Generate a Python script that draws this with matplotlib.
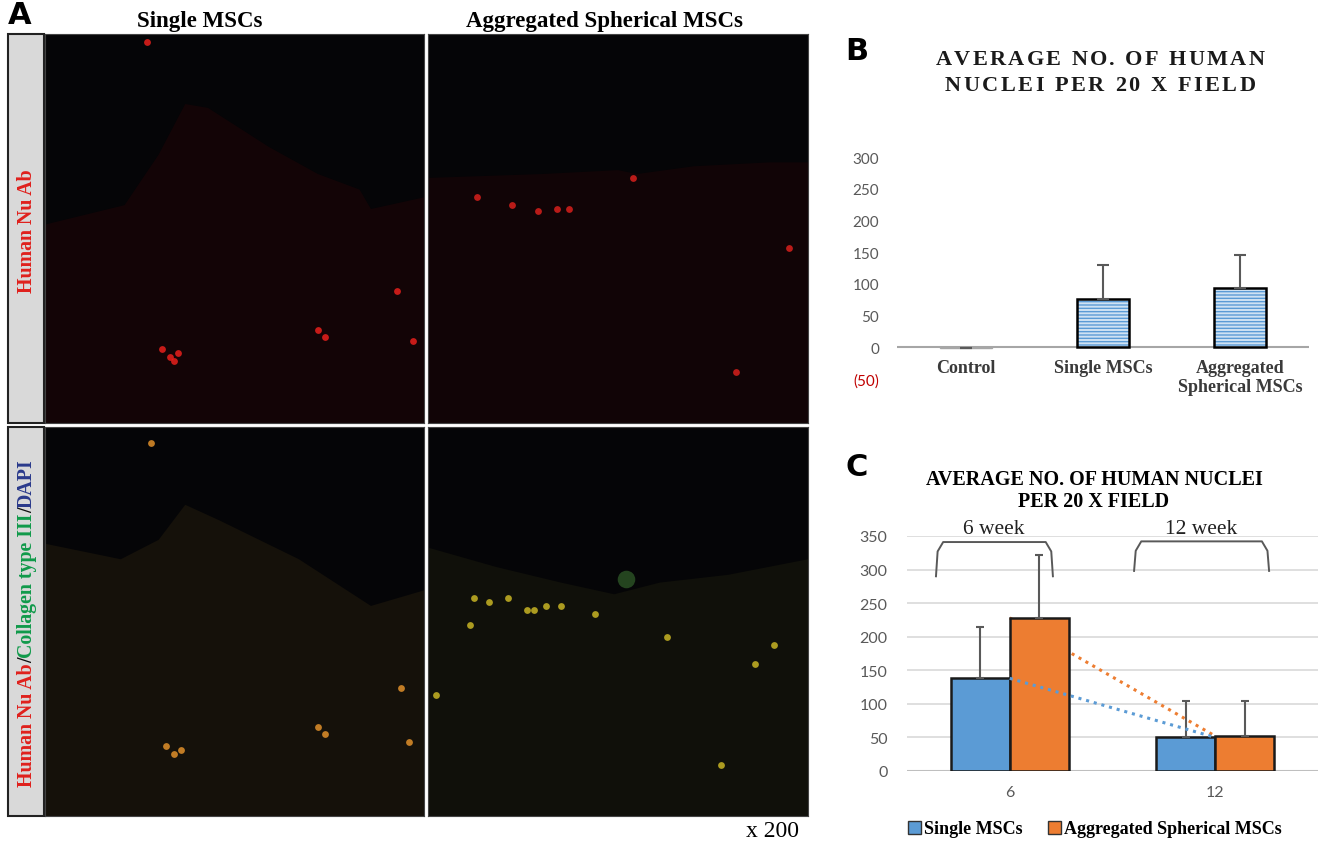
import numpy as np
import matplotlib
matplotlib.use("Agg")
import matplotlib.pyplot as plt
from matplotlib.patches import Patch, Rectangle, Polygon
from matplotlib.font_manager import FontProperties

W, H = 1323, 854

# ---- panel B data ----
b_cats = ["Control", "Single MSCs", "Aggregated\nSpherical MSCs"]
b_vals = [-1, 76, 93]
b_err = [0, 53, 52]
b_ticks = [-50, 0, 50, 100, 150, 200, 250, 300]
b_ticklabels = ["(50)", "0", "50", "100", "150", "200", "250", "300"]

# ---- panel C data ----
c_weeks = ["6", "12"]
c_single = [138, 50]
c_single_err = [76, 54]
c_agg = [228, 52]
c_agg_err = [93, 53]
c_ticks = [0, 50, 100, 150, 200, 250, 300, 350]

# ---- panel A: tissue edges and bright nuclei (fractions of each image, y from top) ----
tl_edge_x = [0, 0.21, 0.30, 0.37, 0.43, 0.59, 0.72, 0.83, 0.86, 1.0]
tl_edge_y = [0.49, 0.44, 0.31, 0.18, 0.19, 0.29, 0.36, 0.40, 0.45, 0.42]
tl_spot_x = [0.31, 0.33, 0.35, 0.34, 0.72, 0.74, 0.93, 0.97, 0.27]
tl_spot_y = [0.81, 0.83, 0.82, 0.84, 0.76, 0.78, 0.66, 0.79, 0.02]

tr_edge_x = [0, 0.3, 0.5, 0.55, 0.7, 0.9, 1.0]
tr_edge_y = [0.37, 0.36, 0.35, 0.36, 0.34, 0.33, 0.33]
tr_spot_x = [0.13, 0.22, 0.29, 0.34, 0.37, 0.95, 0.81, 0.54]
tr_spot_y = [0.42, 0.44, 0.455, 0.45, 0.45, 0.55, 0.87, 0.37]

bl_edge_x = [0, 0.20, 0.30, 0.37, 0.46, 0.67, 0.86, 1.0]
bl_edge_y = [0.30, 0.34, 0.29, 0.20, 0.24, 0.34, 0.46, 0.42]
bl_spot_x = [0.32, 0.34, 0.36, 0.74, 0.72, 0.94, 0.96, 0.28]
bl_spot_y = [0.82, 0.84, 0.83, 0.79, 0.77, 0.67, 0.81, 0.04]

br_edge_x = [0, 0.18, 0.35, 0.49, 0.61, 0.79, 1.0]
br_edge_y = [0.31, 0.36, 0.40, 0.43, 0.40, 0.38, 0.34]
br_spot_x = [0.12, 0.16, 0.21, 0.26, 0.28, 0.31, 0.35, 0.44, 0.11, 0.63, 0.91, 0.86, 0.02, 0.77]
br_spot_y = [0.44, 0.45, 0.44, 0.47, 0.47, 0.46, 0.46, 0.48, 0.51, 0.54, 0.56, 0.61, 0.69, 0.87]

SERIF = "Liberation Serif"
SANS = "Lato"
BLUE = "#5b9bd5"
ORANGE = "#ed7d31"
GRAY = "#595959"


def box(x0, y0, x1, y1):
    return [x0 / W, 1 - y1 / H, (x1 - x0) / W, (y1 - y0) / H]


def fx(x):
    return x / W


def fy(y):
    return 1 - y / H


fig = plt.figure(figsize=(W / 100, H / 100), dpi=100)
renderer = fig.canvas.get_renderer()


def text_width(s, prop):
    w, h, d = renderer.get_text_width_height_descent(s, prop, ismath=False)
    return w


def spaced_text(s, xc, yc, target, size):
    # draw letter-spaced caps so the line spans the target width
    prop = FontProperties(family=SERIF, weight="bold", size=size)
    widths = [text_width(c, prop) if c != " " else size * 0.35 for c in s]
    gap = (target - sum(widths)) / (len(s) - 1)
    x = xc - target / 2
    for c, w in zip(s, widths):
        if c != " ":
            fig.text(fx(x), fy(yc), c, fontproperties=prop, ha="left", va="center", color="#1a1a1a")
        x += w + gap


def vertical_label(segments, xc, yc, size):
    prop = FontProperties(family=SERIF, weight="bold", size=size)
    total = sum(text_width(s, prop) for s, _ in segments)
    y = yc + total / 2
    for s, col in segments:
        fig.text(fx(xc), fy(y), s, fontproperties=prop, color=col, rotation=90,
                 rotation_mode="anchor", ha="left", va="center")
        y -= text_width(s, prop)


# ================= panel A =================
fig.text(fx(20), fy(16), "A", fontsize=22, fontweight="bold", family="DejaVu Sans",
         ha="center", va="center")
fig.text(fx(200), fy(21), "Single MSCs", family=SERIF, fontweight="bold", fontsize=16.5,
         ha="center", va="center")
fig.text(fx(604), fy(22), "Aggregated Spherical MSCs", family=SERIF, fontweight="bold",
         fontsize=16.5, ha="center", va="center")

images = [
    (box(45, 35, 424, 424), tl_edge_x, tl_edge_y, "#130406", tl_spot_x, tl_spot_y, "#e8201c"),
    (box(428, 35, 808, 424), tr_edge_x, tr_edge_y, "#110406", tr_spot_x, tr_spot_y, "#d8201c"),
    (box(45, 428, 424, 817), bl_edge_x, bl_edge_y, "#15110a", bl_spot_x, bl_spot_y, "#e0902a"),
    (box(428, 428, 808, 817), br_edge_x, br_edge_y, "#10100a", br_spot_x, br_spot_y, "#c8b424"),
]
for rect, ex, ey, tissue, sx, sy, spot in images:
    ax = fig.add_axes(rect)
    ax.set_facecolor("#050507")
    ax.set_xlim(0, 1)
    ax.set_ylim(1, 0)
    pts = list(zip(ex, ey)) + [(1, 1), (0, 1)]
    ax.add_patch(Polygon(pts, closed=True, facecolor=tissue, edgecolor="none"))
    ax.scatter(sx, sy, s=24, color=spot, alpha=0.85, linewidths=0)
    ax.set_xticks([])
    ax.set_yticks([])
    for sp in ax.spines.values():
        sp.set_color("#444444")
        sp.set_linewidth(0.8)

# green bubble on the bottom-right image
ax.scatter([0.52], [0.39], s=160, color="#2c5426", alpha=0.8, linewidths=0)

for y0, y1 in [(35, 424), (428, 817)]:
    fig.patches.append(Rectangle((fx(8), fy(y1)), (44 - 8) / W, (y1 - y0) / H,
                                 transform=fig.transFigure, facecolor="#d9d9d9",
                                 edgecolor="#222222", linewidth=1.5))

vertical_label([("Human Nu Ab", "#e0201c")], 27, 231, 14.3)
vertical_label([("Human Nu Ab", "#e0201c"), ("/", "#111111"),
                ("Collagen type III", "#109a4a"), ("/", "#111111"),
                ("DAPI", "#2a3a8c")], 27, 623, 14.3)

fig.text(fx(772), fy(832), "x 200", family=SERIF, fontsize=17, ha="center", va="center")

# ================= panel B =================
fig.text(fx(857), fy(52), "B", fontsize=22, fontweight="bold", family="DejaVu Sans",
         ha="center", va="center")
spaced_text("AVERAGE NO. OF HUMAN", 1100, 60, 329, 16)
spaced_text("NUCLEI PER 20 X FIELD", 1100, 86, 311, 16)

axb = fig.add_axes(box(897, 158, 1309, 380))
xb = np.arange(len(b_cats))
axb.bar(xb, b_vals, width=0.38, color="#cfe2f3", edgecolor=BLUE, hatch="-----",
        linewidth=0, zorder=2)
axb.bar(xb, b_vals, width=0.38, fill=False, edgecolor=["#a6a6a6", "black", "black"],
        linewidth=[1.0, 1.8, 1.8], zorder=3)
axb.errorbar(xb, b_vals, yerr=[np.zeros(len(b_err)), b_err], fmt="none", ecolor=GRAY,
             elinewidth=1.5, capsize=4, capthick=1.5, zorder=4)
axb.axhline(0, color="#a6a6a6", linewidth=1.5, zorder=1)
axb.set_xlim(-0.5, 2.5)
axb.set_ylim(-50, 300)
axb.set_yticks(b_ticks)
axb.set_yticklabels(b_ticklabels, family=SANS, fontsize=11, color=GRAY)
axb.get_yticklabels()[0].set_color("#c00000")
axb.tick_params(axis="y", length=0, pad=13)
axb.set_xticks([])
for sp in axb.spines.values():
    sp.set_visible(False)
for x, lab in zip(xb, b_cats):
    axb.text(x, -19, lab, family=SERIF, fontweight="bold", fontsize=13, color="#3a3a3a",
             ha="center", va="top", linespacing=1.1)

# ================= panel C =================
fig.text(fx(857), fy(468), "C", fontsize=22, fontweight="bold", family="DejaVu Sans",
         ha="center", va="center")
fig.text(fx(1094), fy(491), "AVERAGE NO. OF HUMAN NUCLEI\nPER 20 X FIELD", family=SERIF,
         fontweight="bold", fontsize=14.5, ha="center", va="center", linespacing=1.15)

axc = fig.add_axes(box(907, 537, 1318, 772))
xc = np.arange(len(c_weeks))
bw = 0.287
axc.set_axisbelow(True)
axc.yaxis.grid(True, color="#d9d9d9", linewidth=1.2)
axc.bar(xc - bw / 2, c_single, width=bw, color=BLUE, edgecolor="#1a1a1a", linewidth=1.8, zorder=3)
axc.bar(xc + bw / 2, c_agg, width=bw, color=ORANGE, edgecolor="#1a1a1a", linewidth=1.8, zorder=3)
axc.errorbar(xc - bw / 2, c_single, yerr=[np.zeros(2), c_single_err], fmt="none", ecolor=GRAY,
             elinewidth=1.5, capsize=3, capthick=1.5, zorder=4)
axc.errorbar(xc + bw / 2, c_agg, yerr=[np.zeros(2), c_agg_err], fmt="none", ecolor=GRAY,
             elinewidth=1.5, capsize=3, capthick=1.5, zorder=4)
# trend lines between time points
axc.plot(xc, c_agg, linestyle=(0, (1, 1.6)), color=ORANGE, linewidth=2.2, zorder=2)
axc.plot(xc, c_single, linestyle=(0, (1, 1.6)), color=BLUE, linewidth=2.2, zorder=5)
axc.set_xlim(-0.5, 1.5)
axc.set_ylim(0, 350)
axc.set_yticks(c_ticks)
axc.set_xticks(xc)
axc.set_xticklabels(c_weeks)
axc.tick_params(length=0, labelsize=11.5, labelcolor=GRAY)
axc.tick_params(axis="y", pad=14)
axc.tick_params(axis="x", pad=10)
for lab in axc.get_xticklabels() + axc.get_yticklabels():
    lab.set_family(SANS)
for sp in axc.spines.values():
    sp.set_visible(False)
axc.axhline(0, color="#bfbfbf", linewidth=1.5, zorder=2)


def bracket(x0, x1, top, bot):
    bx = [x0, x0 + 0.008, x0 + 0.035, x1 - 0.035, x1 - 0.008, x1]
    by = [bot, top - 14, top, top, top - 14, bot]
    axc.plot(bx, by, color=GRAY, linewidth=1.4, clip_on=False, zorder=6)


bracket(-0.359, 0.21, 341, 290)
bracket(0.605, 1.262, 342, 298)
axc.text(-0.08, 361, "6 week", family=SERIF, fontsize=15.5, ha="center", va="center", color="#222222")
axc.text(0.93, 361, "12 week", family=SERIF, fontsize=15.5, ha="center", va="center", color="#222222")

handles = [Patch(facecolor=BLUE, edgecolor="#333333", label="Single MSCs"),
           Patch(facecolor=ORANGE, edgecolor="#333333", label="Aggregated Spherical MSCs")]
fig.legend(handles=handles, loc="center", bbox_to_anchor=(fx(1095), fy(830)), ncol=2,
           frameon=False, handlelength=0.7, handleheight=0.7, handletextpad=0.2,
           columnspacing=1.4, prop=FontProperties(family=SERIF, weight="bold", size=13))

fig.savefig("out.png", dpi=100)
